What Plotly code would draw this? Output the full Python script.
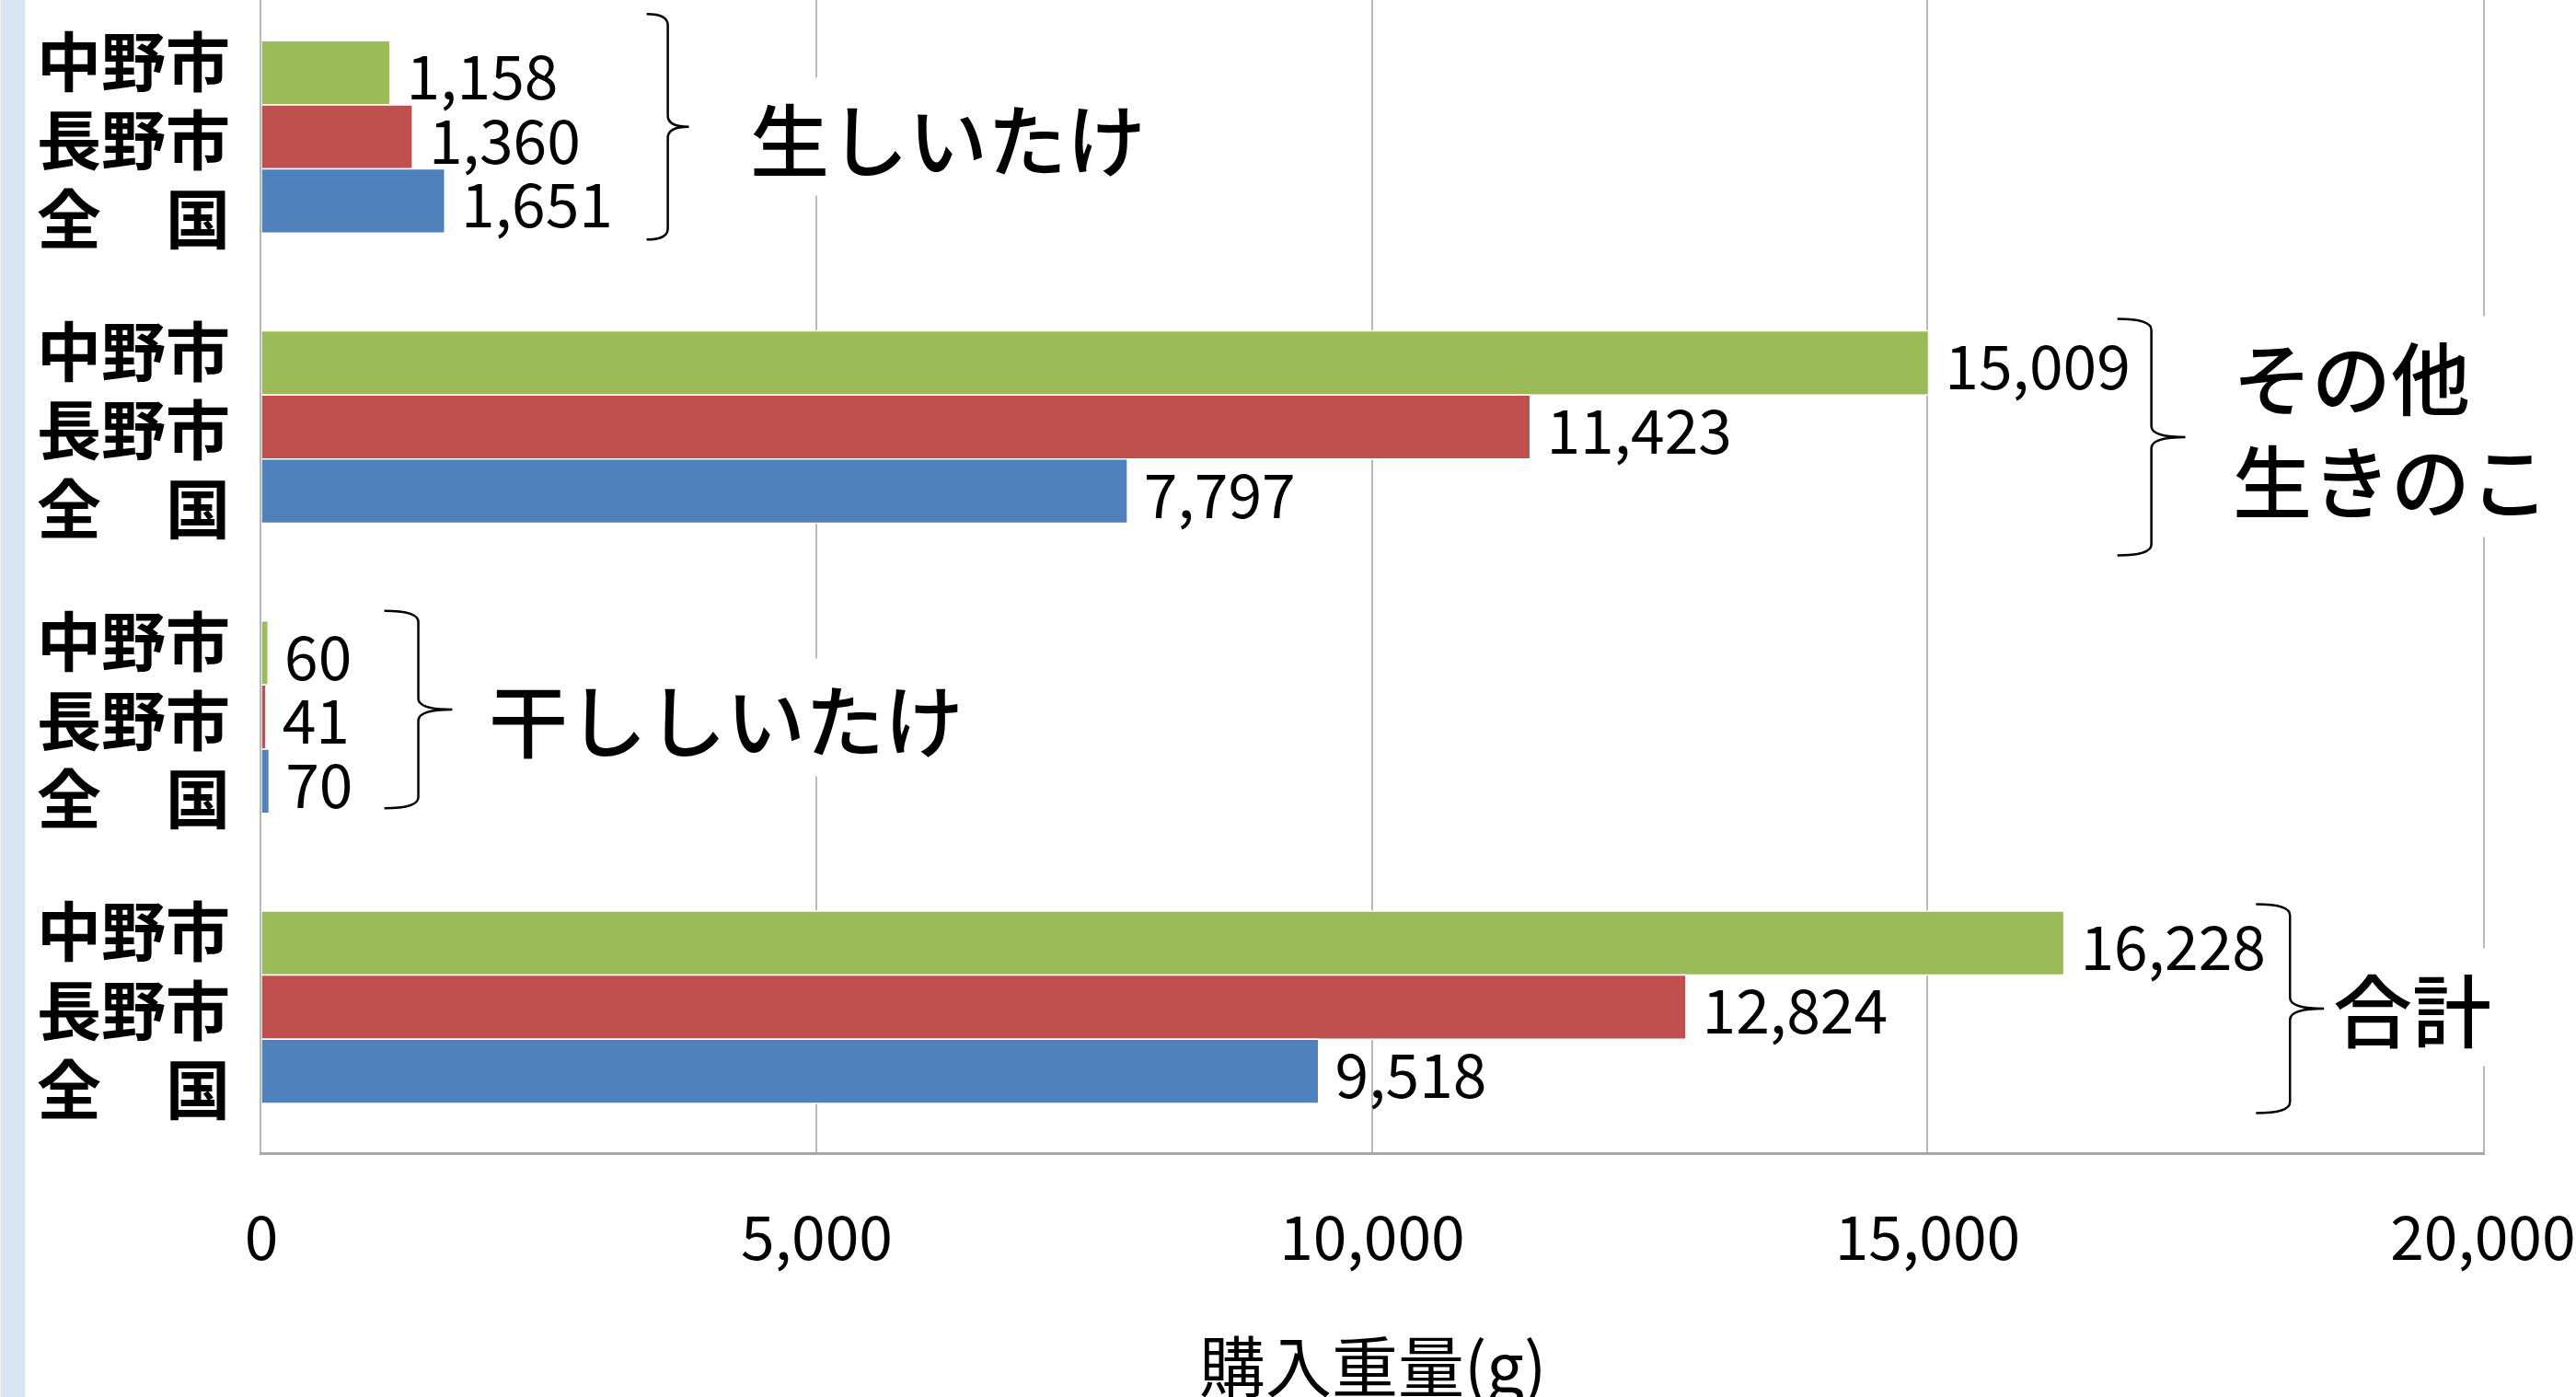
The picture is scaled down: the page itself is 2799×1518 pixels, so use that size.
import plotly.graph_objects as go

# ---- data ----
categories = ["生しいたけ", "その他<br>生きのこ", "干ししいたけ", "合計"]
series_names = ["中野市", "長野市", "全　国"]
nakano = [1158, 15009, 60, 16228]
nagano = [1360, 11423, 41, 12824]
zenkoku = [1651, 7797, 70, 9518]
series_values = [nakano, nagano, zenkoku]
series_colors = ["#9bbb59", "#c0504d", "#4f81bd"]
x_ticks = [0, 5000, 10000, 15000, 20000]
x_tick_labels = ["0", "5,000", "10,000", "15,000", "20,000"]
x_title = "購入重量(g)"

# ---- decoration layout (brace / label placement) ----
brace_x = [3659, 17015, 1413, 18263]          # data units
brace_center_off = [-0.035, 0.035, -0.026, 0.005]
brace_half = [0.389, 0.408, 0.34, 0.36]
brace_w_px = [23, 37, 37, 37]
label_x = [4382, 17727, 2034, 18636]

FONT = "Noto Sans CJK JP, Noto Sans, sans-serif"
W, H = 2799, 1518
L, R, T, B = 284, 96, 0, 266
X_MAX = 20001
plot_w = W - L - R
px_per_unit = plot_w / float(X_MAX)
BARGAP = 0.337

ypos = list(range(len(categories)))

fig = go.Figure()
for name, vals, col in zip(series_names, series_values, series_colors):
    fig.add_trace(go.Bar(
        name=name, y=ypos, x=vals, orientation="h",
        marker=dict(color=col, line=dict(color="white", width=1.5)),
        texttemplate="\u00a0%{x:,}", textposition="outside",
        textfont=dict(size=66, color="black", family=FONT),
        constraintext="none", cliponaxis=False, showlegend=False,
    ))

shapes = []
# left strip
shapes.append(dict(type="rect", xref="paper", yref="paper",
                   x0=-L / plot_w, x1=(27 - L) / plot_w, y0=-1, y1=2,
                   fillcolor="#dbe5f1", line=dict(width=0), layer="below"))

unit_px = (H - T - B) / (3.5 + 0.472)
for i in range(len(categories)):
    xb = brace_x[i]
    w = brace_w_px[i] / px_per_unit
    ym = ypos[i] + brace_center_off[i]
    yt = ym - brace_half[i]
    yb = ym + brace_half[i]
    r = 12 / unit_px
    path = (f"M {xb - w},{yt} Q {xb},{yt} {xb},{yt + r} "
            f"L {xb},{ym - r} Q {xb},{ym} {xb + w},{ym} "
            f"Q {xb},{ym} {xb},{ym + r} "
            f"L {xb},{yb - r} Q {xb},{yb} {xb - w},{yb}")
    shapes.append(dict(type="path", xref="x", yref="y", path=path,
                       line=dict(color="black", width=2.5)))

annotations = []
for i, cat in enumerate(categories):
    annotations.append(dict(x=label_x[i], y=ypos[i], xref="x", yref="y",
                            text=cat, showarrow=False, xanchor="left", yanchor="middle",
                            align="left", bgcolor="white",
                            font=dict(size=86, color="black", family=FONT, weight=500)))
# city labels per bar
label_step = 0.272
for i in range(len(categories)):
    for j, name in enumerate(series_names):
        annotations.append(dict(x=(145 - L) / plot_w, y=ypos[i] + (j - 1) * label_step,
                                xref="paper", yref="y", text=name, showarrow=False,
                                xanchor="center", yanchor="middle",
                                font=dict(size=70, color="black", family=FONT, weight=600)))
annotations.append(dict(x=0.5, y=-(1480 - (H - B)) / (H - T - B), xref="paper", yref="paper",
                        text=x_title, showarrow=False, xanchor="center", yanchor="middle",
                        font=dict(size=72, color="black", family=FONT)))

fig.update_layout(
    width=W, height=H, margin=dict(l=L, r=R, t=T, b=B),
    paper_bgcolor="white", plot_bgcolor="white",
    barmode="group", bargap=BARGAP, bargroupgap=0,
    shapes=shapes, annotations=annotations,
    xaxis=dict(range=[0, X_MAX], tickvals=x_ticks, ticktext=x_tick_labels,
               showgrid=True, gridcolor="#b8b8b8", gridwidth=2,
               zeroline=False, showline=True, linecolor="#a6a6a6", linewidth=3,
               ticks="", ticklabelstandoff=35, ticklabeloverflow="allow",
               tickfont=dict(size=66, color="black", family=FONT)),
    yaxis=dict(range=[3.5, -0.472], showticklabels=False, showgrid=False,
               zeroline=False, showline=True, mirror=True,
               linecolor="#b8b8b8", linewidth=2, ticks=""),
)

fig.write_html("out.html")
